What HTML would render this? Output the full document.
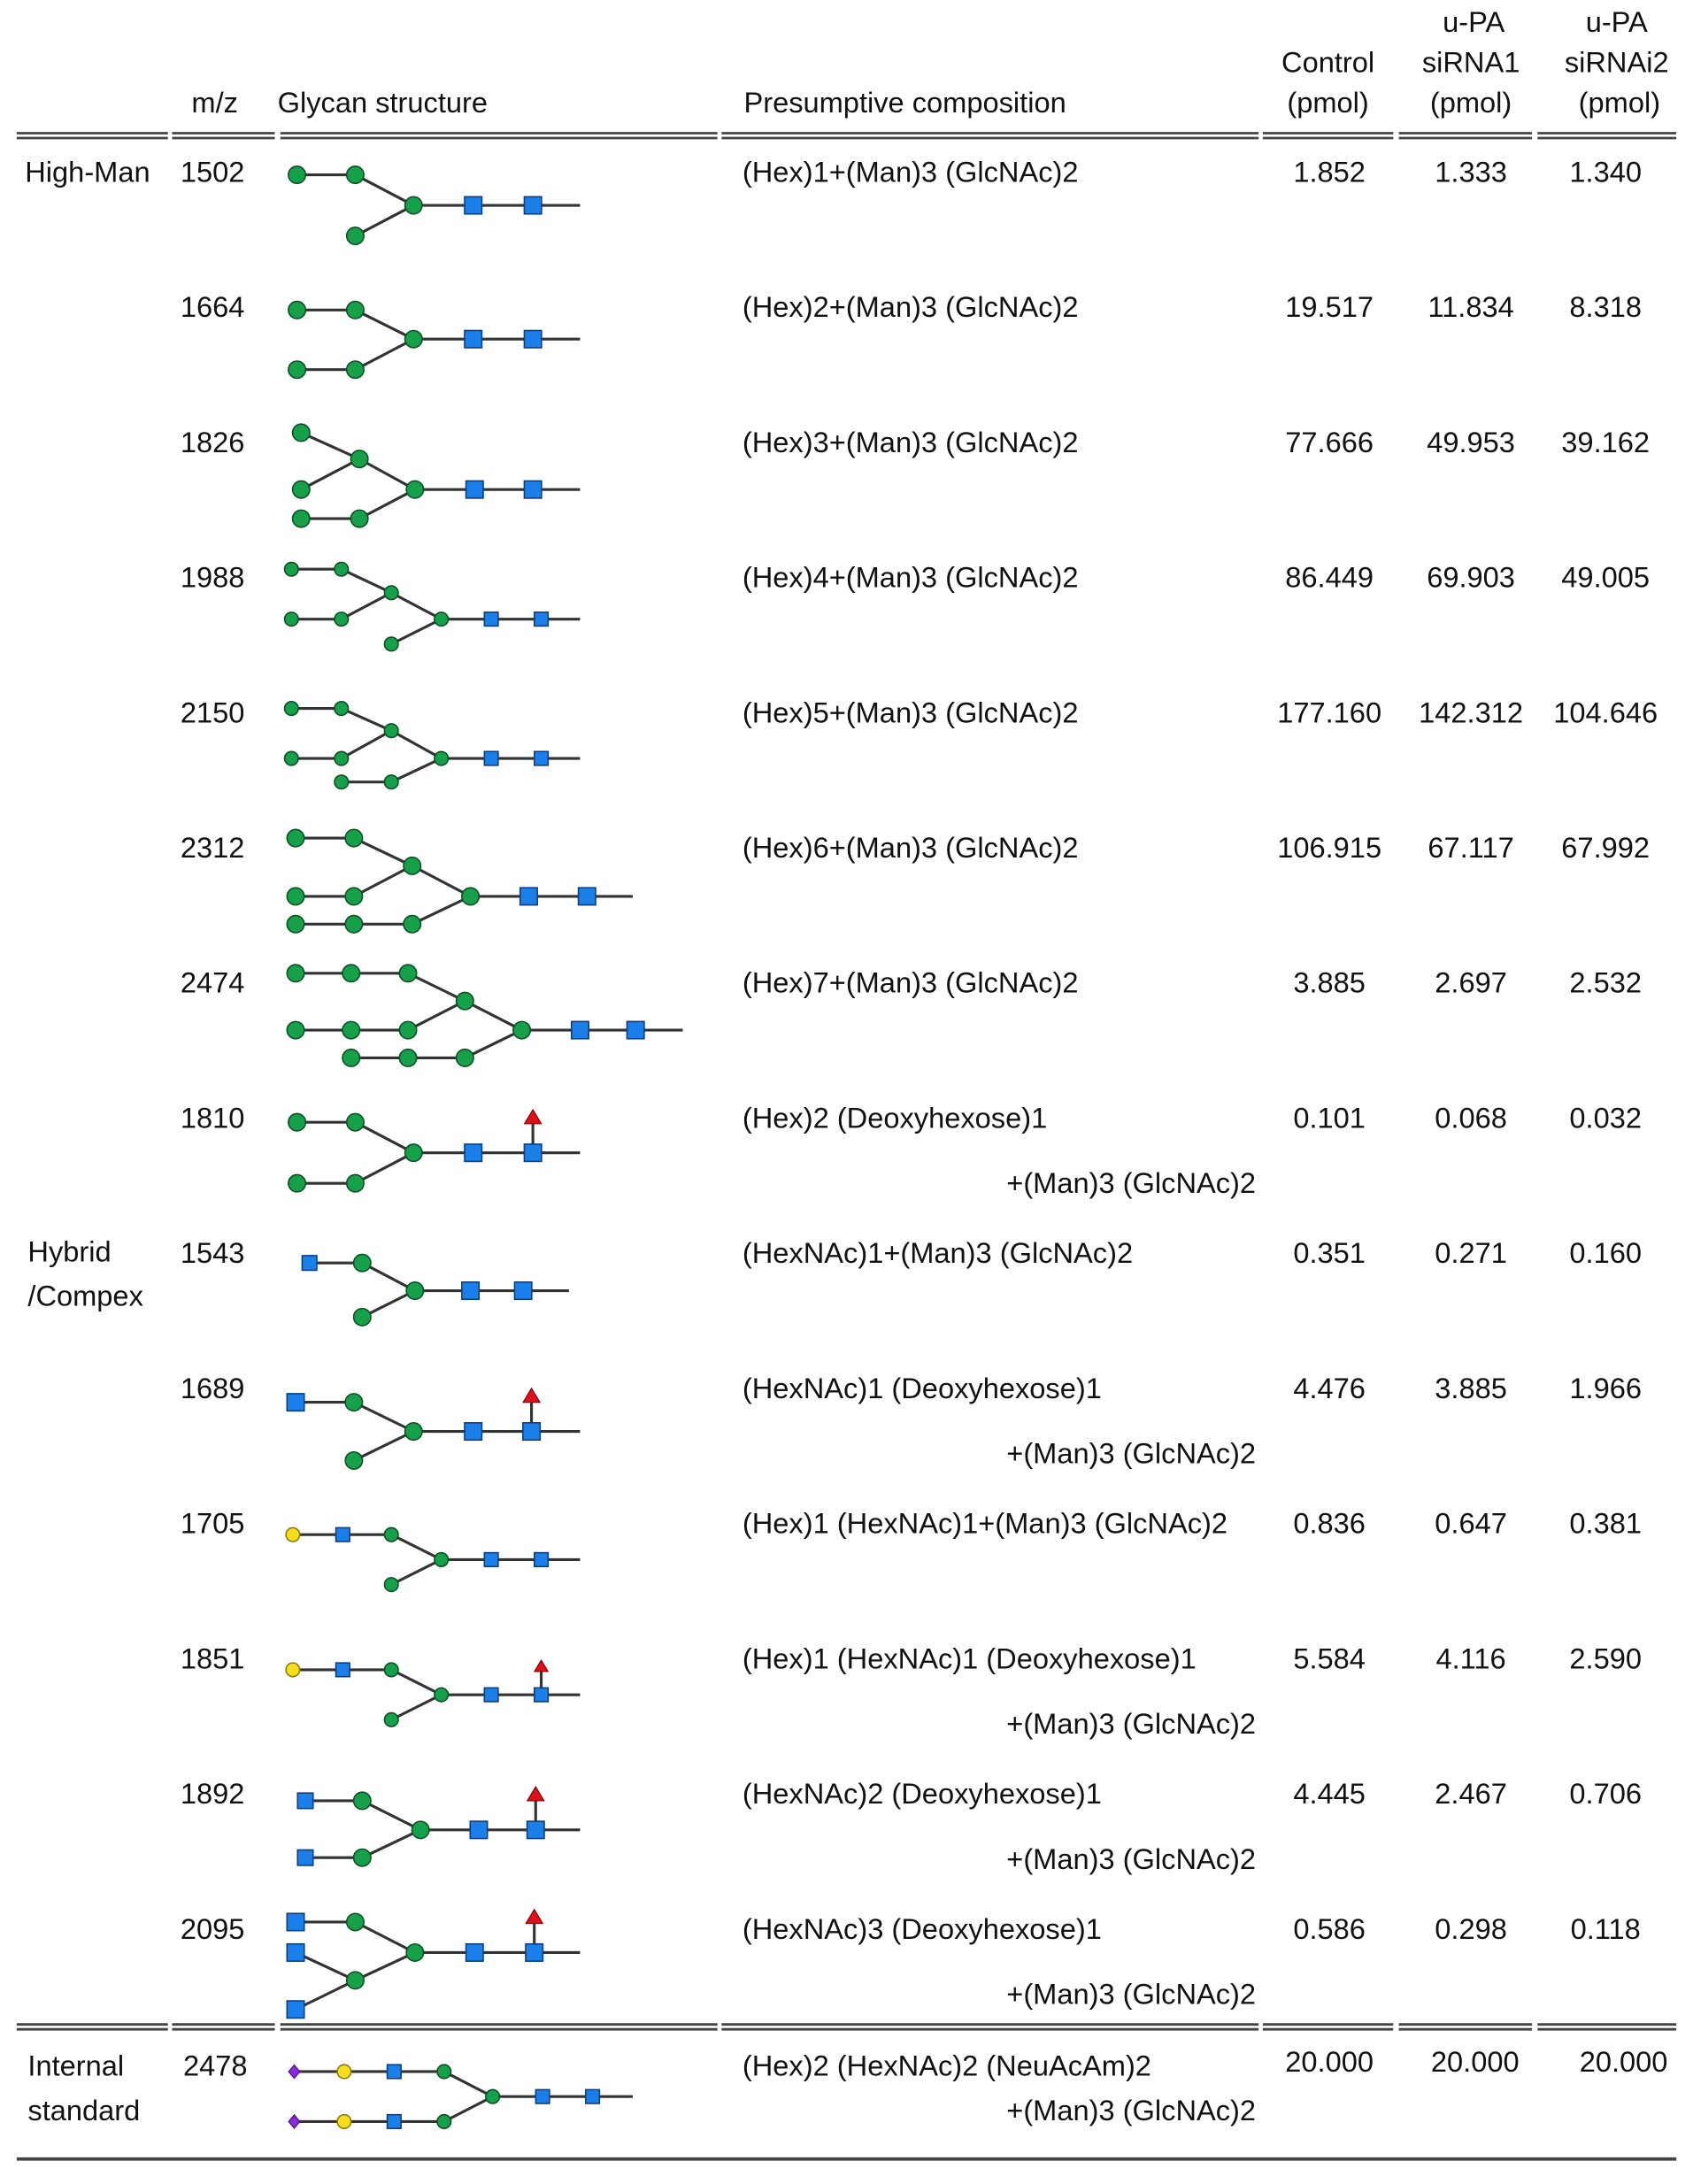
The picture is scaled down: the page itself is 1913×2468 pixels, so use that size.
<!DOCTYPE html>
<html><head><meta charset="utf-8"><style>
html,body{margin:0;padding:0;background:#fff;}
svg{display:block;}
text{font-family:"Liberation Sans",Arial,sans-serif;font-size:20.8px;fill:#111;}
</style></head><body>
<svg id="tbl" width="1913" height="2468" viewBox="0 0 1220 1574" xmlns="http://www.w3.org/2000/svg">
<g id="hdr">
 <text x="1062" y="23" text-anchor="middle">u-PA</text>
 <text x="1165" y="23" text-anchor="middle">u-PA</text>
 <text x="957" y="52" text-anchor="middle">Control</text>
 <text x="1060" y="52" text-anchor="middle">siRNA1</text>
 <text x="1165" y="52" text-anchor="middle">siRNAi2</text>
 <text x="138" y="81">m/z</text>
 <text x="200" y="81">Glycan structure</text>
 <text x="536" y="81">Presumptive composition</text>
 <text x="957" y="81" text-anchor="middle">(pmol)</text>
 <text x="1060" y="81" text-anchor="middle">(pmol)</text>
 <text x="1167" y="81" text-anchor="middle">(pmol)</text>
</g>
<g id="rules"></g>
<g id="body"></g>
</svg>
<script>
const mz=[1502,1664,1826,1988,2150,2312,2474,1810,1543,1689,1705,1851,1892,2095,2478];
const comp1=["(Hex)1+(Man)3 (GlcNAc)2","(Hex)2+(Man)3 (GlcNAc)2","(Hex)3+(Man)3 (GlcNAc)2","(Hex)4+(Man)3 (GlcNAc)2","(Hex)5+(Man)3 (GlcNAc)2","(Hex)6+(Man)3 (GlcNAc)2","(Hex)7+(Man)3 (GlcNAc)2","(Hex)2 (Deoxyhexose)1","(HexNAc)1+(Man)3 (GlcNAc)2","(HexNAc)1 (Deoxyhexose)1","(Hex)1 (HexNAc)1+(Man)3 (GlcNAc)2","(Hex)1 (HexNAc)1 (Deoxyhexose)1"," (HexNAc)2 (Deoxyhexose)1"," (HexNAc)3 (Deoxyhexose)1"," (Hex)2 (HexNAc)2 (NeuAcAm)2"];
const comp2=["","","","","","","","+(Man)3 (GlcNAc)2","","+(Man)3 (GlcNAc)2","","+(Man)3 (GlcNAc)2","+(Man)3 (GlcNAc)2","+(Man)3 (GlcNAc)2","+(Man)3 (GlcNAc)2"];
const control=["1.852","19.517","77.666","86.449","177.160","106.915","3.885","0.101","0.351","4.476","0.836","5.584","4.445","0.586","20.000"];
const sirna1=["1.333","11.834","49.953","69.903","142.312","67.117","2.697","0.068","0.271","3.885","0.647","4.116","2.467","0.298","20.000"];
const sirna2=["1.340","8.318","39.162","49.005","104.646","67.992","2.532","0.032","0.160","1.966","0.381","2.590","0.706","0.118","20.000"];
const NS="http://www.w3.org/2000/svg";
function mk(tag,attrs,parent,txt){const e=document.createElementNS(NS,tag);for(const k in attrs)e.setAttribute(k,attrs[k]);if(txt!==undefined)e.textContent=txt;parent.appendChild(e);return e;}
const body=document.getElementById('body');
const rules=document.getElementById('rules');
const rowY=i=> i<14 ? 124+i*97.4 : 1489;
const segs=[[12,121],[124,198],[202,517],[520,907],[910,1004],[1008,1104],[1108,1208]];
function dbl(y,name){segs.forEach(s=>{const l1=mk('line',{x1:s[0],x2:s[1],y1:y,y2:y,stroke:'#444','stroke-width':1.8},rules);


mk('line',{x1:s[0],x2:s[1],y1:y+3.5,y2:y+3.5,stroke:'#444','stroke-width':1.8},rules);});}
dbl(96,'header-rule');dbl(1459,'internal-standard-rule');
const bl=mk('line',{x1:12,x2:1208,y1:1556,y2:1556,stroke:'#444','stroke-width':2.4},rules);


[["High-Man",18,131],["Hybrid",20,909],["/Compex",20,941],["Internal",20,1496],["standard",20,1528]].forEach(g=>{const t=mk('text',{x:g[1],y:g[2]},body,g[0]);

});
const G=[
 {n:[['c',214,2],['c',256,2],['c',256,46],['c',298,24],['s',341,24],['s',384,24]],e:[[0,1],[1,3],[2,3],[3,4],[4,5]],end:[384,418,24]},
 {n:[['c',214,2],['c',256,2],['c',214,45],['c',256,45],['c',298,23],['s',341,23],['s',384,23]],e:[[0,1],[1,4],[2,3],[3,4],[4,5],[5,6]],end:[384,418,23]},
 {n:[['c',217,-7],['c',259,12],['c',217,34],['c',217,55],['c',259,55],['c',299,34],['s',342,34],['s',384,34]],e:[[0,1],[2,1],[1,5],[3,4],[4,5],[5,6],[6,7]],end:[384,418,34]},
 {n:[['c',210,-6,.8],['c',246,-6,.8],['c',282,11,.8],['c',210,30,.8],['c',246,30,.8],['c',318,30,.8],['c',282,48,.8],['s',354,30,.8],['s',390,30,.8]],e:[[0,1],[1,2],[2,5],[3,4],[4,2],[6,5],[5,7],[7,8]],end:[390,418,30]},
 {n:[['c',210,-3,.8],['c',246,-3,.8],['c',282,13,.8],['c',210,33,.8],['c',246,33,.8],['c',318,33,.8],['c',246,50,.8],['c',282,50,.8],['s',354,33,.8],['s',390,33,.8]],e:[[0,1],[1,2],[2,5],[3,4],[4,2],[6,7],[7,5],[5,8],[8,9]],end:[390,418,33]},
 {n:[['c',213,-7],['c',255,-7],['c',297,13],['c',213,35],['c',255,35],['c',339,35],['c',213,55],['c',255,55],['c',297,55],['s',381,35],['s',423,35]],e:[[0,1],[1,2],[2,5],[3,4],[4,2],[6,7],[7,8],[8,5],[5,9],[9,10]],end:[423,456,35]},
 {n:[['c',213,-7],['c',253,-7],['c',294,-7],['c',335,13],['c',213,34],['c',253,34],['c',294,34],['c',376,34],['c',253,54],['c',294,54],['c',335,54],['s',418,34],['s',458,34]],e:[[0,1],[1,2],[2,3],[3,7],[4,5],[5,6],[6,3],[8,9],[9,10],[10,7],[7,11],[11,12]],end:[458,492,34]},
 {n:[['c',214,3],['c',256,3],['c',214,47],['c',256,47],['c',298,25],['s',341,25],['s',384,25]],e:[[0,1],[1,4],[2,3],[3,4],[4,5],[5,6]],end:[384,418,25],f:[384,25]},
 {n:[['s',223,7,.85],['c',261,7],['c',261,46],['c',299,27],['s',339,27],['s',377,27]],e:[[0,1],[1,3],[2,3],[3,4],[4,5]],end:[377,410,27]},
 {n:[['s',213,10],['c',255,10],['c',255,52],['c',298,31],['s',341,31],['s',383,31]],e:[[0,1],[1,3],[2,3],[3,4],[4,5]],end:[383,418,31],f:[383,31]},
 {n:[['y',211,8,.8],['s',247,8,.8],['c',282,8,.8],['c',282,44,.8],['c',318,26,.8],['s',354,26,.8],['s',390,26,.8]],e:[[0,1],[1,2],[2,4],[3,4],[4,5],[5,6]],end:[390,418,26]},
 {n:[['y',211,8,.8],['s',247,8,.8],['c',282,8,.8],['c',282,44,.8],['c',318,26,.8],['s',354,26,.8],['s',390,26,.8]],e:[[0,1],[1,2],[2,4],[3,4],[4,5],[5,6]],end:[390,418,26],f:[390,26,.8]},
 {n:[['s',220,5,.9],['c',261,5],['s',220,46,.9],['c',261,46],['c',303,26],['s',345,26],['s',386,26]],e:[[0,1],[1,4],[2,3],[3,4],[4,5],[5,6]],end:[386,418,26],f:[386,26]},
 {n:[['s',213,-5],['c',256,-5],['s',213,17],['c',256,37],['s',213,58],['c',299,17],['s',342,17],['s',385,17]],e:[[0,1],[1,5],[2,3],[4,3],[3,5],[5,6],[6,7]],end:[385,418,17],f:[385,17]},
 {n:[['d',212,4,.8],['y',248,4,.8],['s',284,4,.8],['c',320,4,.8],['c',355,22,.8],['s',391,22,.8],['s',427,22,.8],['d',212,40,.8],['y',248,40,.8],['s',284,40,.8],['c',320,40,.8]],e:[[0,1],[1,2],[2,3],[3,4],[7,8],[8,9],[9,10],[10,4],[4,5],[5,6]],end:[427,456,22]}
];
mz.forEach((m,i)=>{
 const y=rowY(i);
 const g=mk('g',{},body);
 
 
 let t=mk('text',{x:i==14?132:130,y:y+7},g,String(m));
 
 
 t=mk('text',{x:535,y:y+7,'xml:space':'preserve'},g,comp1[i]);
 
 
 if(comp2[i]){t=mk('text',{x:905,y:(i==14?y+39:y+54),'text-anchor':'end'},g,comp2[i]);
 
 }
 const vy=i==14?y+4:y+7;
 t=mk('text',{x:958,y:vy,'text-anchor':'middle'},g,control[i]);
 
 
 t=mk('text',{x:i==14?1063:1060,y:vy,'text-anchor':'middle'},g,sirna1[i]);
 
 
 t=mk('text',{x:i==14?1170:1157,y:vy,'text-anchor':'middle'},g,sirna2[i]);
 
 
 const gl=G[i];
 const gg=mk('g',{},g);
 
 
 const P=n=>[n[1],y+n[2]];
 gl.e.forEach(e=>{const a=P(gl.n[e[0]]),b=P(gl.n[e[1]]);mk('line',{x1:a[0],y1:a[1],x2:b[0],y2:b[1],stroke:'#333','stroke-width':2},gg);});
 mk('line',{x1:gl.end[0],x2:gl.end[1],y1:y+gl.end[2],y2:y+gl.end[2],stroke:'#333','stroke-width':2},gg);
 if(gl.f){const fx=gl.f[0],fy=y+gl.f[1],s=gl.f[2]||1;
  mk('line',{x1:fx,x2:fx,y1:fy,y2:fy-24*s,stroke:'#333','stroke-width':2},gg);
  mk('polygon',{points:`${fx},${fy-31*s} ${fx-6*s},${fy-21*s} ${fx+6*s},${fy-21*s}`,fill:'#e0101a',stroke:'#800','stroke-width':0.8},gg);}
 gl.n.forEach(n=>{const [x,yy]=P(n),s=n[3]||1;
  if(n[0]=='c')mk('circle',{cx:x,cy:yy,r:6.2*s,fill:'#16a04a',stroke:'#0b4f24','stroke-width':1},gg);
  else if(n[0]=='y')mk('circle',{cx:x,cy:yy,r:6.2*s,fill:'#f7de1a',stroke:'#8a7a10','stroke-width':1},gg);
  else if(n[0]=='s')mk('rect',{x:x-6.2*s,y:yy-6.2*s,width:12.4*s,height:12.4*s,fill:'#1a7fe8',stroke:'#0c3d80','stroke-width':1},gg);
  else mk('polygon',{points:`${x},${yy-6*s} ${x+5*s},${yy} ${x},${yy+6*s} ${x-5*s},${yy}`,fill:'#8a2be2',stroke:'#4b1580','stroke-width':0.8},gg);
 });
});
</script>
</body></html>
